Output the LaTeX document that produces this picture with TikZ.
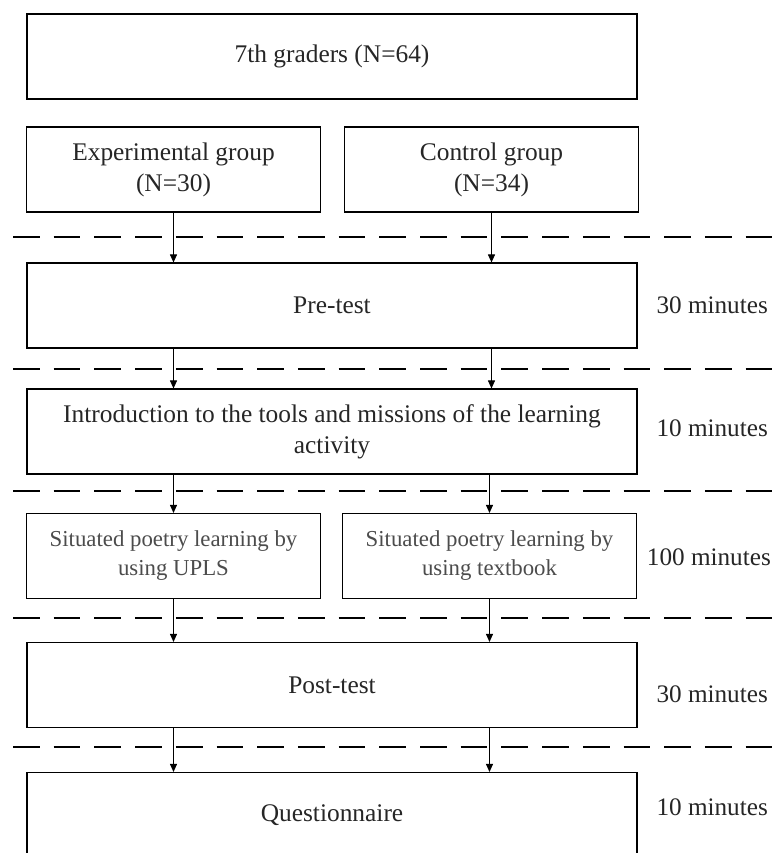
\documentclass[tikz,border=0pt]{standalone}
\usepackage{fontspec}
\setmainfont{Liberation Serif}
\usetikzlibrary{arrows.meta}
\begin{document}
\begin{tikzpicture}[x=1pt,y=-1pt,
  box/.style={draw=black, line width=1.1pt, fill=white, inner sep=0pt, align=center,
    text=black!85, font=\fontsize{25.4}{31}\selectfont},
  wide/.style={box, minimum width=610pt, minimum height=85pt},
  half/.style={box, minimum width=294pt, minimum height=85pt},
  small/.style={half, text=black!70, font=\fontsize{22.8}{29}\selectfont},
  timelbl/.style={anchor=east, inner sep=0pt, text=black!85, font=\fontsize{25.2}{30}\selectfont},
  arr/.style={line width=0.9pt, -{Triangle[length=8pt,width=7pt]}},
  sep/.style={line width=1.6pt, dash pattern=on 26.7pt off 14pt}]
\clip (0,0) rectangle (777,853);
\fill[white] (0,0) rectangle (777,853);
% boxes
\node[wide] (all) at (332,56.5) {7th graders (N=64)};
\node[half] (exp) at (173.5,169.5) {Experimental group\\(N=30)};
\node[half] (ctl) at (491.5,169.5) {Control group\\(N=34)};
\node[wide] (pre) at (332,305.5) {Pre-test};
\node[wide] (intro) at (332,431.5) {Introduction to the tools and missions of the learning\\activity};
\node[small] (sitl) at (173.5,556) {Situated poetry learning by\\using UPLS};
\node[small] (sitr) at (489.5,556) {Situated poetry learning by\\using textbook};
\node[wide] (post) at (332,685) {Post-test};
\node[wide] (quest) at (332,815) {Questionnaire};
% time labels
\node[timelbl] (t1) at (768,305) {30 minutes};
\node[timelbl] (t2) at (768,428) {10 minutes};
\node[timelbl] (t3) at (771,557) {100 minutes};
\node[timelbl] (t4) at (768,694) {30 minutes};
\node[timelbl] (t5) at (768,807) {10 minutes};
% dashed separators
\foreach \yy in {237,369,491,618,747} \draw[sep] (13,\yy) -- (790,\yy);
% arrows
\draw[arr] (exp.south) -- (exp.south |- pre.north);
\draw[arr] (ctl.south) -- (ctl.south |- pre.north);
\draw[arr] (pre.south -| exp.south) -- (intro.north -| exp.south);
\draw[arr] (pre.south -| ctl.south) -- (intro.north -| ctl.south);
\draw[arr] (intro.south -| sitl.north) -- (sitl.north);
\draw[arr] (intro.south -| sitr.north) -- (sitr.north);
\draw[arr] (sitl.south) -- (sitl.south |- post.north);
\draw[arr] (sitr.south) -- (sitr.south |- post.north);
\draw[arr] (post.south -| sitl.south) -- (quest.north -| sitl.south);
\draw[arr] (post.south -| sitr.south) -- (quest.north -| sitr.south);
\end{tikzpicture}
\end{document}
